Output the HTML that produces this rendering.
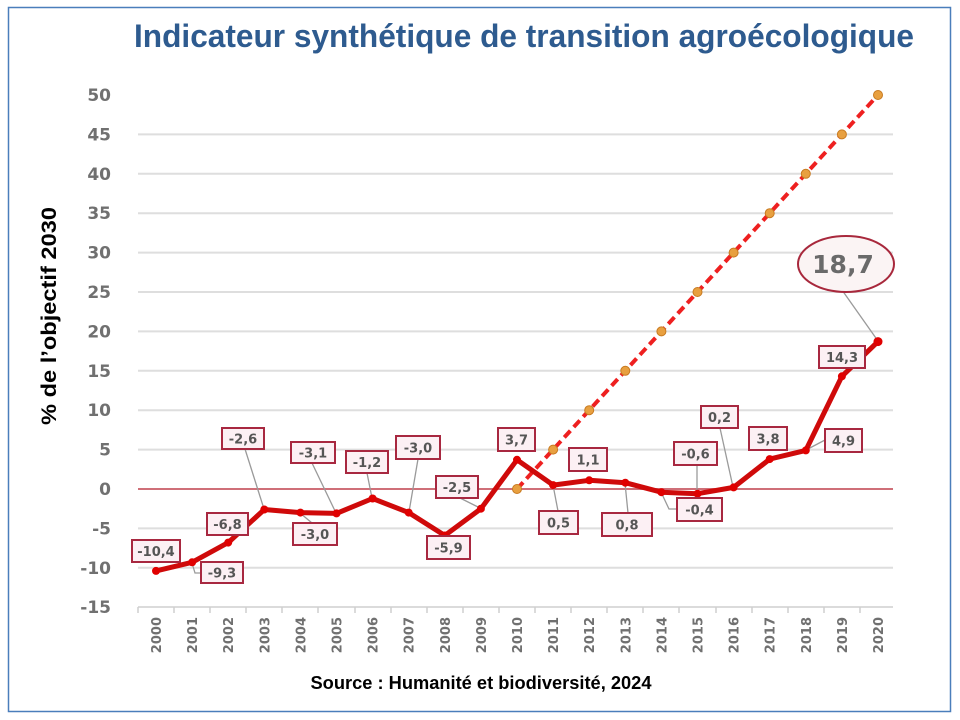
<!DOCTYPE html>
<html><head><meta charset="utf-8"><style>
html,body{margin:0;padding:0;background:#fff;}
svg{display:block;}
.yl{font-family:"DejaVu Sans",sans-serif;font-weight:bold;font-size:17px;fill:#707070;text-anchor:end;}
.xl{font-family:"DejaVu Sans",sans-serif;font-weight:bold;font-size:13px;fill:#707070;text-anchor:end;}
.lb rect{fill:#fcf0f4;stroke:#a82840;stroke-width:2;}
.lb text{font-family:"DejaVu Sans",sans-serif;font-weight:bold;font-size:13px;fill:#555;text-anchor:middle;}
.ld{stroke:#9a9a9a;stroke-width:1.3;fill:none;}
</style></head><body>
<svg width="960" height="720" viewBox="0 0 960 720" xmlns="http://www.w3.org/2000/svg">
<rect x="0" y="0" width="960" height="720" fill="#fff"/>
<rect x="8.5" y="7.5" width="942" height="704" fill="none" stroke="#4a7ebb" stroke-width="1.5"/>
<text x="524" y="47" text-anchor="middle" textLength="780" lengthAdjust="spacingAndGlyphs" font-family="Liberation Sans, Arial, sans-serif" font-weight="bold" font-size="32" fill="#2e5b8f">Indicateur synthétique de transition agroécologique</text>

<!-- gridlines -->
<g stroke="#dedede" stroke-width="2">
<line x1="138" x2="893" y1="134.4" y2="134.4"/>
<line x1="138" x2="893" y1="173.8" y2="173.8"/>
<line x1="138" x2="893" y1="213.2" y2="213.2"/>
<line x1="138" x2="893" y1="252.6" y2="252.6"/>
<line x1="138" x2="893" y1="292" y2="292"/>
<line x1="138" x2="893" y1="331.4" y2="331.4"/>
<line x1="138" x2="893" y1="370.8" y2="370.8"/>
<line x1="138" x2="893" y1="410.2" y2="410.2"/>
<line x1="138" x2="893" y1="449.6" y2="449.6"/>
<line x1="138" x2="893" y1="528.4" y2="528.4"/>
<line x1="138" x2="893" y1="567.8" y2="567.8"/>
</g>
<line x1="138" x2="893" y1="489" y2="489" stroke="#cf6f78" stroke-width="2"/>
<!-- x axis -->
<g stroke="#cfcfcf" stroke-width="1.5">
<line x1="138" x2="893" y1="607" y2="607"/>
<line x1="138" x2="138" y1="607" y2="613"/><line x1="174" x2="174" y1="607" y2="613"/><line x1="210" x2="210" y1="607" y2="613"/><line x1="246" x2="246" y1="607" y2="613"/><line x1="282" x2="282" y1="607" y2="613"/><line x1="318" x2="318" y1="607" y2="613"/><line x1="355" x2="355" y1="607" y2="613"/><line x1="391" x2="391" y1="607" y2="613"/><line x1="427" x2="427" y1="607" y2="613"/><line x1="463" x2="463" y1="607" y2="613"/><line x1="499" x2="499" y1="607" y2="613"/><line x1="535" x2="535" y1="607" y2="613"/><line x1="571" x2="571" y1="607" y2="613"/><line x1="607" x2="607" y1="607" y2="613"/><line x1="643" x2="643" y1="607" y2="613"/><line x1="679" x2="679" y1="607" y2="613"/><line x1="716" x2="716" y1="607" y2="613"/><line x1="752" x2="752" y1="607" y2="613"/><line x1="788" x2="788" y1="607" y2="613"/><line x1="824" x2="824" y1="607" y2="613"/><line x1="860" x2="860" y1="607" y2="613"/>
</g>

<!-- y labels -->
<g class="yl">
<text x="111" y="101">50</text>
<text x="111" y="140.4">45</text>
<text x="111" y="179.8">40</text>
<text x="111" y="219.2">35</text>
<text x="111" y="258.6">30</text>
<text x="111" y="298">25</text>
<text x="111" y="337.4">20</text>
<text x="111" y="376.8">15</text>
<text x="111" y="416.2">10</text>
<text x="111" y="455.6">5</text>
<text x="111" y="495">0</text>
<text x="111" y="534.4">-5</text>
<text x="111" y="573.8">-10</text>
<text x="111" y="613.2">-15</text>
</g>

<!-- x labels -->
<g class="xl">
<text transform="translate(161,617) rotate(-90)">2000</text>
<text transform="translate(197.1,617) rotate(-90)">2001</text>
<text transform="translate(233.2,617) rotate(-90)">2002</text>
<text transform="translate(269.3,617) rotate(-90)">2003</text>
<text transform="translate(305.4,617) rotate(-90)">2004</text>
<text transform="translate(341.5,617) rotate(-90)">2005</text>
<text transform="translate(377.6,617) rotate(-90)">2006</text>
<text transform="translate(413.7,617) rotate(-90)">2007</text>
<text transform="translate(449.8,617) rotate(-90)">2008</text>
<text transform="translate(485.9,617) rotate(-90)">2009</text>
<text transform="translate(522,617) rotate(-90)">2010</text>
<text transform="translate(558.1,617) rotate(-90)">2011</text>
<text transform="translate(594.2,617) rotate(-90)">2012</text>
<text transform="translate(630.3,617) rotate(-90)">2013</text>
<text transform="translate(666.4,617) rotate(-90)">2014</text>
<text transform="translate(702.5,617) rotate(-90)">2015</text>
<text transform="translate(738.6,617) rotate(-90)">2016</text>
<text transform="translate(774.7,617) rotate(-90)">2017</text>
<text transform="translate(810.8,617) rotate(-90)">2018</text>
<text transform="translate(846.9,617) rotate(-90)">2019</text>
<text transform="translate(883,617) rotate(-90)">2020</text>
</g>

<!-- y title -->
<text transform="translate(56,316) rotate(-90)" text-anchor="middle" textLength="218" lengthAdjust="spacingAndGlyphs" font-family="Liberation Sans, Arial, sans-serif" font-weight="bold" font-size="21" fill="#000">% de l’objectif 2030</text>

<!-- leader lines -->
<g class="ld">
<polyline points="192,563 195,573 201,573"/>
<line x1="245" y1="449" x2="264" y2="509"/>
<line x1="312" y1="463" x2="336" y2="513"/>
<line x1="300" y1="513" x2="312" y2="523"/>
<line x1="367" y1="473" x2="372" y2="498"/>
<line x1="418" y1="459" x2="409" y2="512"/>
<line x1="460" y1="498" x2="480" y2="508"/>
<line x1="553" y1="485" x2="558" y2="511"/>
<line x1="625" y1="483" x2="628" y2="513"/>
<polyline points="661,492 669,509 677,509"/>
<line x1="697" y1="465" x2="697" y2="494"/>
<line x1="720" y1="428" x2="733" y2="487"/>
<line x1="806" y1="450" x2="825" y2="440"/>
<line x1="842" y1="290" x2="878" y2="341"/>
</g>

<!-- dashed target -->
<line x1="517" y1="489" x2="878" y2="95" stroke="#ee2020" stroke-width="4" stroke-dasharray="9 5"/>
<g fill="#e8a040" stroke="#c87a20" stroke-width="1">
<circle cx="517" cy="489" r="4.5"/><circle cx="553.1" cy="449.6" r="4.5"/><circle cx="589.2" cy="410.2" r="4.5"/><circle cx="625.3" cy="370.8" r="4.5"/><circle cx="661.4" cy="331.4" r="4.5"/><circle cx="697.5" cy="292" r="4.5"/><circle cx="733.6" cy="252.6" r="4.5"/><circle cx="769.7" cy="213.2" r="4.5"/><circle cx="805.8" cy="173.8" r="4.5"/><circle cx="841.9" cy="134.4" r="4.5"/><circle cx="878" cy="95" r="4.5"/>
</g>

<!-- main series -->
<polyline fill="none" stroke="#cf0a0a" stroke-width="5" stroke-linejoin="round" stroke-linecap="round" points="156,570.9 192.1,562.3 228.2,542.6 264.3,509.5 300.4,512.6 336.5,513.4 372.6,498.5 408.7,512.6 444.8,535.5 480.9,508.7 517,459.8 553.1,485.1 589.2,480.3 625.3,482.7 661.4,492.2 697.5,493.7 733.6,487.4 769.7,459.1 805.8,450.4 841.9,376.3 878,341.6"/>
<g fill="#e00000">
<circle cx="156" cy="570.9" r="4"/><circle cx="192.1" cy="562.3" r="4"/><circle cx="228.2" cy="542.6" r="4"/><circle cx="264.3" cy="509.5" r="4"/><circle cx="300.4" cy="512.6" r="4"/><circle cx="336.5" cy="513.4" r="4"/><circle cx="372.6" cy="498.5" r="4"/><circle cx="408.7" cy="512.6" r="4"/><circle cx="444.8" cy="535.5" r="4"/><circle cx="480.9" cy="508.7" r="4"/><circle cx="517" cy="459.8" r="4"/><circle cx="553.1" cy="485.1" r="4"/><circle cx="589.2" cy="480.3" r="4"/><circle cx="625.3" cy="482.7" r="4"/><circle cx="661.4" cy="492.2" r="4"/><circle cx="697.5" cy="493.7" r="4"/><circle cx="733.6" cy="487.4" r="4"/><circle cx="769.7" cy="459.1" r="4"/><circle cx="805.8" cy="450.4" r="4"/><circle cx="841.9" cy="376.3" r="4"/><circle cx="878" cy="341.6" r="4.5"/>
</g>

<!-- data labels -->
<g class="lb">
<rect x="132" y="540" width="48" height="22"/><text x="156" y="556">-10,4</text>
<rect x="201" y="562" width="42" height="21"/><text x="222" y="577.5">-9,3</text>
<rect x="207" y="513" width="41" height="22"/><text x="227.5" y="529">-6,8</text>
<rect x="222" y="428" width="42" height="21"/><text x="243" y="443.5">-2,6</text>
<rect x="291" y="442" width="44" height="21"/><text x="313" y="457.5">-3,1</text>
<rect x="293" y="523" width="44" height="22"/><text x="315" y="539">-3,0</text>
<rect x="346" y="451" width="42" height="22"/><text x="367" y="467">-1,2</text>
<rect x="396" y="436" width="44" height="23"/><text x="418" y="452.5">-3,0</text>
<rect x="436" y="476" width="42" height="22"/><text x="457" y="492">-2,5</text>
<rect x="427" y="536" width="43" height="23"/><text x="448.5" y="552.5">-5,9</text>
<rect x="498" y="428" width="37" height="23"/><text x="516.5" y="444.5">3,7</text>
<rect x="539" y="511" width="39" height="23"/><text x="558.5" y="527.5">0,5</text>
<rect x="569" y="448" width="38" height="23"/><text x="588" y="464.5">1,1</text>
<rect x="602" y="513" width="50" height="23"/><text x="627" y="529.5">0,8</text>
<rect x="674" y="442" width="43" height="23"/><text x="695.5" y="458.5">-0,6</text>
<rect x="677" y="498" width="45" height="23"/><text x="699.5" y="514.5">-0,4</text>
<rect x="701" y="406" width="37" height="22"/><text x="719.5" y="422">0,2</text>
<rect x="749" y="427" width="38" height="23"/><text x="768" y="443.5">3,8</text>
<rect x="825" y="429" width="37" height="23"/><text x="843.5" y="445.5">4,9</text>
<rect x="819" y="346" width="46" height="22"/><text x="842" y="362">14,3</text>
</g>

<!-- 18,7 callout -->
<ellipse cx="846" cy="264" rx="48" ry="28" fill="#fbf4f4" stroke="#a8283c" stroke-width="2"/>
<text x="843" y="273" text-anchor="middle" font-family="DejaVu Sans, sans-serif" font-weight="bold" font-size="25" fill="#6a6a6a">18,7</text>

<!-- source -->
<text x="481" y="689" text-anchor="middle" textLength="341" lengthAdjust="spacingAndGlyphs" font-family="Liberation Sans, Arial, sans-serif" font-weight="bold" font-size="18" fill="#000">Source : Humanité et biodiversité, 2024</text>
</svg>
</body></html>
